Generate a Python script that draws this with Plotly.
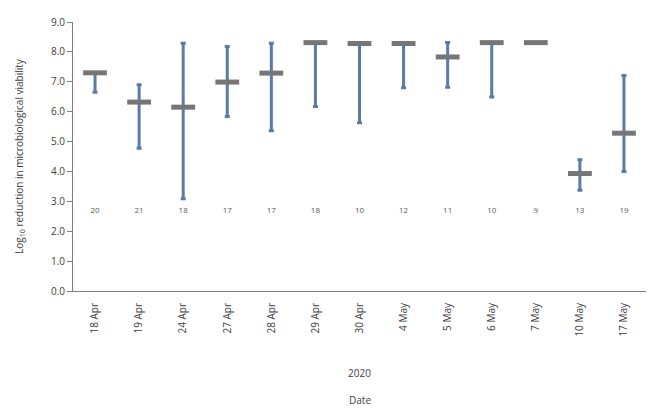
import plotly.graph_objects as go

dates = ["18 Apr", "19 Apr", "24 Apr", "27 Apr", "28 Apr", "29 Apr", "30 Apr",
         "4 May", "5 May", "6 May", "7 May", "10 May", "17 May"]
mean_vals = [7.30, 6.32, 6.15, 6.99, 7.29, 8.31, 8.28, 8.28, 7.83, 8.31, 8.31, 3.93, 5.28]
max_vals = [7.30, 6.90, 8.29, 8.18, 8.29, 8.31, 8.28, 8.28, 8.31, 8.31, 8.31, 4.39, 7.21]
min_vals = [6.65, 4.78, 3.09, 5.84, 5.36, 6.17, 5.63, 6.80, 6.82, 6.49, 8.31, 3.37, 4.00]
counts = [20, 21, 18, 17, 17, 18, 10, 12, 11, 10, 9, 13, 19]
count_label_y = [2.69] * len(dates)
y_ticks = [0, 1, 2, 3, 4, 5, 6, 7, 8, 9]

blue = "#5b7ba6"
grey = "#767676"
font = "Open Sans"

plus = [mx - m for mx, m in zip(max_vals, mean_vals)]
minus = [m - mn for m, mn in zip(mean_vals, min_vals)]

fig = go.Figure()
fig.add_trace(go.Scatter(
    x=dates, y=mean_vals, mode="markers",
    marker=dict(size=1, color="rgba(0,0,0,0)"),
    error_y=dict(type="data", symmetric=False, array=plus, arrayminus=minus,
                 color=blue, thickness=3, width=2.5),
    hoverinfo="skip", showlegend=False))
fig.add_trace(go.Scatter(
    x=dates, y=mean_vals, mode="markers",
    marker=dict(symbol="line-ew", size=17, line=dict(width=5, color=grey)),
    showlegend=False))
fig.add_trace(go.Scatter(
    x=dates, y=count_label_y, mode="text", text=[str(c) for c in counts],
    textfont=dict(family=font, size=8, color="#595959"), showlegend=False))

fig.update_layout(
    width=659, height=404,
    margin=dict(l=65, r=21, t=14, b=121),
    plot_bgcolor="white", paper_bgcolor="white",
    font=dict(family=font, size=10, color="#404040"),
    xaxis=dict(type="category", categoryorder="array", categoryarray=dates,
               range=[-0.5, len(dates) - 0.5], automargin=False,
               tickangle=-90, showline=True, linecolor="#808080", linewidth=1,
               ticks="", showgrid=False, zeroline=False, ticklabelstandoff=7,
               tickfont=dict(size=10, color="#404040"),
               title=dict(text="2020", font=dict(size=10, color="#404040"), standoff=34)),
    yaxis=dict(range=[0, 9], tickvals=y_ticks, tickformat=".1f", automargin=False,
               showline=True, linecolor="#808080", linewidth=1,
               ticks="outside", ticklen=5, tickcolor="#808080",
               showgrid=False, zeroline=False,
               tickfont=dict(size=10, color="#404040"),
               title=dict(text="Log<sub>10</sub> reduction in microbiological viability",
                          font=dict(size=10, color="#404040"), standoff=25)),
)
fig.add_annotation(text="Date", x=0.5, xref="paper", y=-0.405, yref="paper",
                   showarrow=False, font=dict(size=10, color="#404040"), yanchor="middle")

fig.write_html("out.html")
